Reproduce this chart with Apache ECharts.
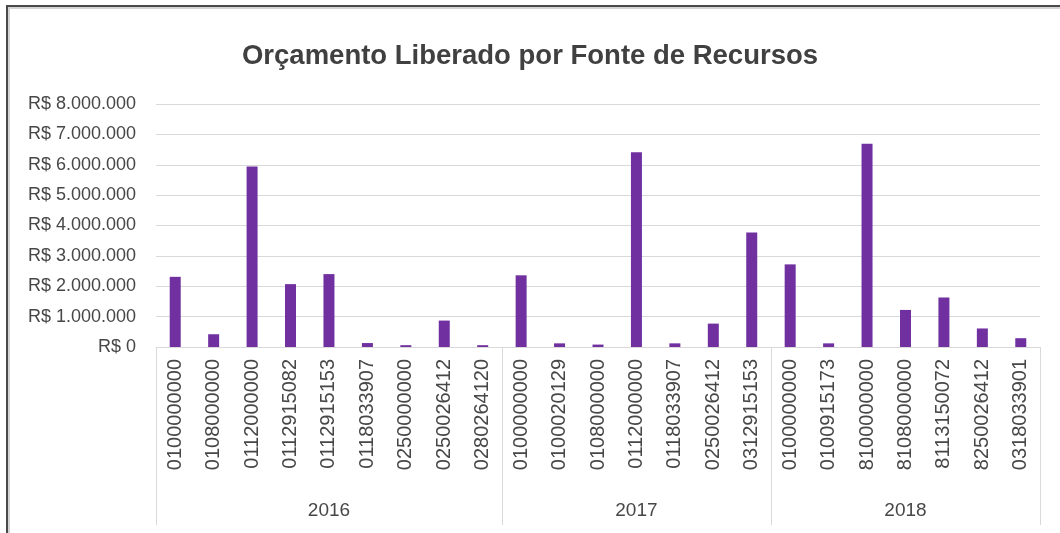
<!DOCTYPE html>
<html>
<head>
<meta charset="utf-8">
<script src="https://cdn.jsdelivr.net/npm/echarts@6/dist/echarts.min.js"></script>
<style>
  html, body { margin: 0; padding: 0; background: #ffffff; }
  #chart { position: absolute; left: 0; top: 0; width: 1060px; height: 533px; }
  #frame { position: absolute; left: 6px; top: 5px; width: 1060px; height: 540px;
           border-left: 2px solid #4a4a4a; border-top: 2px solid #4a4a4a;
           box-shadow: inset 2px 2px 0 #d4d4d4; pointer-events: none; }
</style>
</head>
<body>
<div id="chart"></div>
<div id="frame"></div>
<script>
const years = ['2016', '2017', '2018'];
const codes2016 = ['0100000000', '0108000000', '0112000000', '0112915082', '0112915153', '0118033907', '0250000000', '0250026412', '0280264120'];
const codes2017 = ['0100000000', '0100020129', '0108000000', '0112000000', '0118033907', '0250026412', '0312915153'];
const codes2018 = ['0100000000', '0100915173', '8100000000', '8108000000', '8113150072', '8250026412', '0318033901'];
const values2016 = [2310000, 420000, 5940000, 2070000, 2400000, 130000, 60000, 870000, 60000];
const values2017 = [2360000, 120000, 80000, 6410000, 120000, 770000, 3770000];
const values2018 = [2720000, 120000, 6690000, 1220000, 1630000, 610000, 290000];
const yTicks = [0, 1000000, 2000000, 3000000, 4000000, 5000000, 6000000, 7000000, 8000000];

const groups = [codes2016, codes2017, codes2018];
const categories = [].concat(codes2016, codes2017, codes2018);
const values = [].concat(values2016, values2017, values2018);
const yearOfCat = [];
const groupStarts = [];
const groupMiddles = [];
groups.forEach((g, gi) => {
  groupStarts.push(yearOfCat.length);
  groupMiddles.push(yearOfCat.length + Math.floor(g.length / 2));
  g.forEach(() => yearOfCat.push(years[gi]));
});

const FONT = 'Liberation Sans';
const TXT = '#474747';
const TITLE = '#404040';
const LINE = '#d9d9d9';

function fmt(v) {
  return 'R$ ' + String(Math.round(v)).replace(/\B(?=(\d{3})+(?!\d))/g, '.');
}

const chart = echarts.init(document.getElementById('chart'), null, { renderer: 'canvas' });
chart.setOption({
  backgroundColor: '#ffffff',
  animation: false,
  title: {
    text: 'Orçamento Liberado por Fonte de Recursos',
    left: 'center',
    top: 37,
    textStyle: { fontFamily: FONT, fontSize: 27.5, fontWeight: 'bold', color: TITLE }
  },
  grid: { left: 156, right: 20, top: 104, bottom: 186, containLabel: false },
  xAxis: [
    {
      type: 'category',
      data: categories,
      gridIndex: 0,
      position: 'bottom',
      axisLine: { show: true, lineStyle: { color: LINE, width: 1 } },
      axisTick: {
        show: true,
        length: 178,
        interval: function (index) { return groupStarts.indexOf(index) >= 0; },
        lineStyle: { color: LINE, width: 1 }
      },
      axisLabel: {
        interval: 0,
        rotate: 90,
        margin: 12,
        fontFamily: FONT,
        fontSize: 20,
        color: TXT
      },
      splitLine: { show: false }
    },
    {
      type: 'category',
      data: yearOfCat,
      gridIndex: 0,
      position: 'bottom',
      axisLine: { show: false },
      axisTick: { show: false },
      axisLabel: {
        interval: function (index) { return groupMiddles.indexOf(index) >= 0; },
        margin: 154,
        fontFamily: FONT,
        fontSize: 19,
        color: TXT
      },
      splitLine: { show: false }
    }
  ],
  yAxis: {
    type: 'value',
    min: yTicks[0],
    max: yTicks[yTicks.length - 1],
    interval: yTicks[1] - yTicks[0],
    axisLine: { show: false },
    axisTick: { show: false },
    axisLabel: {
      margin: 20,
      fontFamily: FONT,
      fontSize: 18,
      color: TXT,
      formatter: fmt
    },
    splitLine: { show: true, lineStyle: { color: LINE, width: 1 } }
  },
  series: [
    {
      type: 'bar',
      xAxisIndex: 0,
      data: values,
      barWidth: 11,
      itemStyle: { color: '#7030A0' }
    }
  ]
});
</script>
</body>
</html>
